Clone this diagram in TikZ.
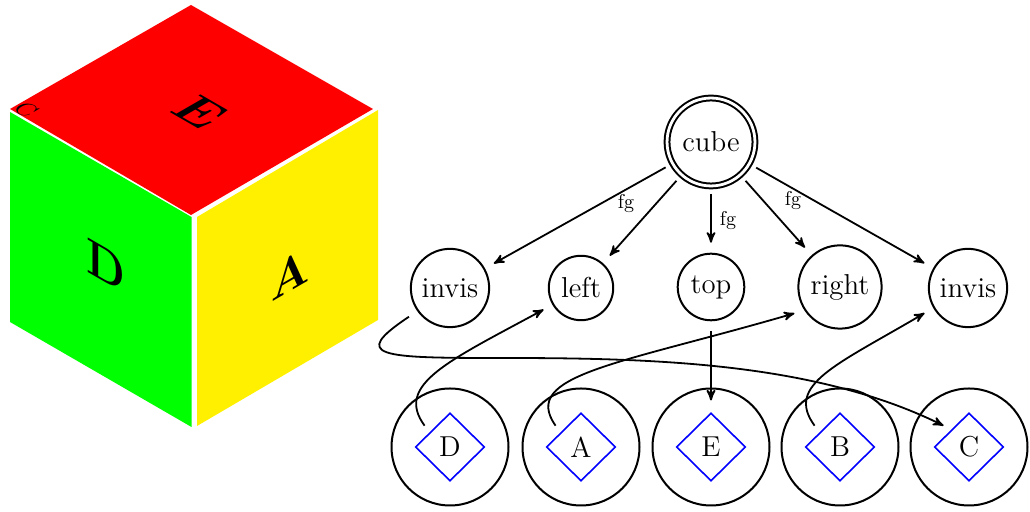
\documentclass[tikz,border=0pt]{standalone}
\usepackage{amsmath}
\usepackage{tikz}
\usetikzlibrary{shapes.geometric,arrows}
\definecolor{faceyellow}{RGB}{255,240,0}
\tikzset{
  state/.style={circle,draw,line width=1pt,outer sep=5.5pt,inner sep=3.6pt,font=\Large},
  ring/.style={circle,draw,line width=1pt,minimum size=58.5pt},
  facet/.style={diamond,draw=blue,line width=.8pt,minimum width=38pt,minimum height=37.5pt,inner sep=0pt,outer sep=4.5pt,font=\Large},
  link/.style={->,>=stealth',line width=.9pt},
  lab/.style={font=\normalsize},
  letter/.style={font=\fontsize{22.5}{22.5}\selectfont\bfseries}
}
\begin{document}
\begin{tikzpicture}[x=.5pt,y=.5pt]
\useasboundingbox (0,0) rectangle (1030,512);
% cube faces
\fill[red] (191,507) -- (373,403) -- (191,297) -- (10,403) -- cycle;
\fill[green] (10,400) -- (191.5,295) -- (191.5,85) -- (10,190) -- cycle;
\fill[faceyellow] (197,295) -- (378,402) -- (378,192) -- (197,86) -- cycle;
\node[cm={1,-.577,0,1.12,(106,247)},letter] (faceD) {D};
\node[cm={1,.577,0,1.12,(291,238)},letter] (faceA) {A};
\node[cm={1,-.577,1,.577,(200,400)},letter] (faceE) {E};
\node[cm={.88,-.51,.88,.51,(26,402)},font=\fontsize{12}{12}\selectfont] (faceC) {C};
% tree
\node [circle,draw,double,double distance=1.4pt,line width=1pt,outer sep=4pt,inner sep=5.2pt,font=\Large] (cube) at (711,370) {cube};
\node [state] (linvis) at (450,224) {invis};
\node [state] (left) at (581,224) {left};
\node [state] (top) at (711,225) {top};
\node [state] (right) at (840,225) {right};
\node [state] (rinvis) at (968,224) {invis};
\node [ring] (rD) at (450,65) {};
\node [ring] (rA) at (581,65) {};
\node [ring] (rE) at (711,65) {};
\node [ring] (rB) at (840,65) {};
\node [ring] (rC) at (969,65) {};
\node [facet] (D) at (450,65) {D};
\node [facet] (A) at (581,65) {A};
\node [facet] (E) at (711,65) {E};
\node [facet] (B) at (840,65) {B};
\node [facet] (C) at (969,65) {C};
\draw [link] (cube) -- (linvis);
\draw [link] (cube) -- (left);
\draw [link] (cube) -- (top);
\draw [link] (cube) -- (right);
\draw [link] (cube) -- (rinvis);
\draw [link] (top) -- (E);
\draw [link] (D.140) .. controls +(-30,41) and +(-96,-52) .. (left.210);
\draw [link] (A.140) .. controls +(-36,51) and +(-175,-51) .. (right.210);
\draw [link] (B.140) .. controls +(-30,41) and +(-88,-52) .. (rinvis.210);
\draw [link] (linvis.215) .. controls +(-60,-40) and +(-120,0) .. (500,154) .. controls +(150,0) and +(-130,64) .. (C.140);
\node [lab] (fgleft) at (626,308) {fg};
\node [lab] (fgtop) at (728,291) {fg};
\node [lab] (fgright) at (793,311) {fg};
\end{tikzpicture}
\end{document}
